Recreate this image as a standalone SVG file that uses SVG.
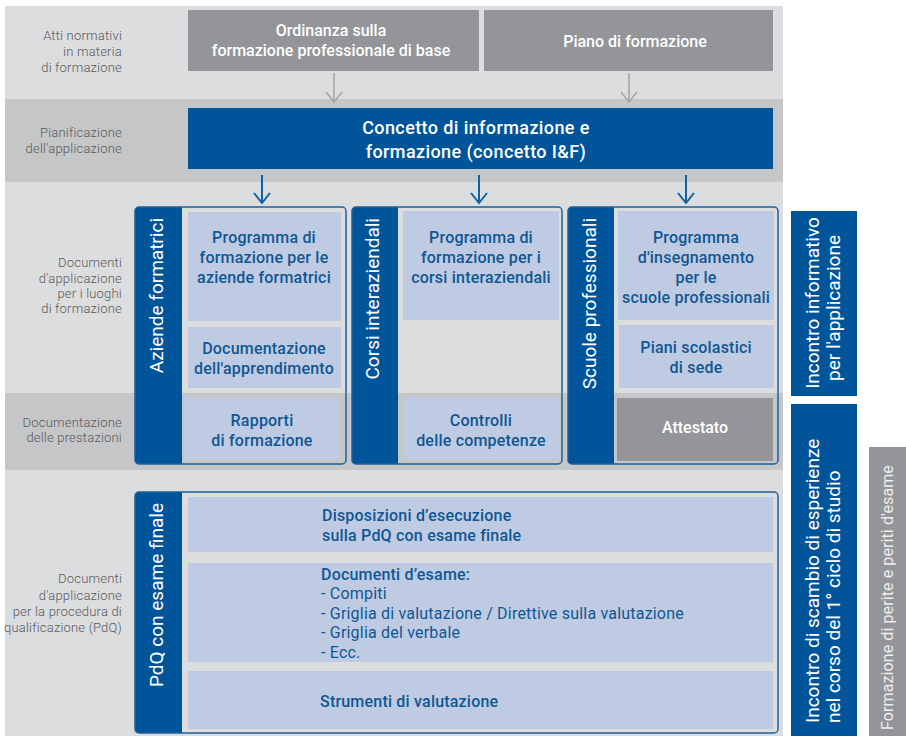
<svg xmlns="http://www.w3.org/2000/svg" width="906" height="736" viewBox="0 0 906 736">
<defs>
<style>
.lbl{font-family:Roboto,"Liberation Sans",sans-serif;font-size:13px;font-weight:300;fill:#58595b;text-anchor:end;letter-spacing:0.2px}
.gt{font-family:Roboto,"Liberation Sans",sans-serif;font-size:16px;font-weight:500;fill:#ffffff;text-anchor:middle}
.wt{font-family:Roboto,"Liberation Sans",sans-serif;font-size:18px;font-weight:500;fill:#ffffff;text-anchor:middle;letter-spacing:0.4px}
.bt{font-family:Roboto,"Liberation Sans",sans-serif;font-size:16px;font-weight:500;fill:#0f5794;text-anchor:middle;letter-spacing:0.2px}
.btl{font-family:Roboto,"Liberation Sans",sans-serif;font-size:16px;font-weight:500;fill:#0f5794;letter-spacing:0.2px}
.btn{font-family:Roboto,"Liberation Sans",sans-serif;font-size:16px;font-weight:400;fill:#0f5794;letter-spacing:0.2px}
.vt{font-family:Roboto,"Liberation Sans",sans-serif;font-size:19px;font-weight:400;fill:#ffffff}
.gvt{font-family:Roboto,"Liberation Sans",sans-serif;font-size:16px;font-weight:400;fill:#eeeeee;letter-spacing:0.1px}
.inner{fill:#bfcbe3}
.stripe{fill:#00559a}
.frame{fill:none;stroke:#1f5f99;stroke-width:1.5}
.ga{stroke:#a3a4a6;stroke-width:1.5;fill:none}
.ba{stroke:#12609f;stroke-width:2;fill:none}
</style>
</defs>
<!-- bands -->
<rect x="5" y="6" width="778" height="93" fill="#dcdddf"/>
<rect x="5" y="99" width="778" height="83" fill="#c5c6c8"/>
<rect x="5" y="182" width="778" height="211" fill="#dcdddf"/>
<rect x="5" y="393" width="778" height="77" fill="#c5c6c8"/>
<rect x="5" y="470" width="778" height="266" fill="#dcdddf"/>

<!-- left labels -->
<g id="labels">
<text class="lbl" x="122" y="40">Atti normativi</text>
<text class="lbl" x="122" y="56">in materia</text>
<text class="lbl" x="122" y="72">di formazione</text>
<text class="lbl" x="122" y="137">Pianificazione</text>
<text class="lbl" x="122" y="153">dell'applicazione</text>
<text class="lbl" x="122" y="267">Documenti</text>
<text class="lbl" x="122" y="283">d'applicazione</text>
<text class="lbl" x="122" y="298">per i luoghi</text>
<text class="lbl" x="122" y="313">di formazione</text>
<text class="lbl" x="122" y="427">Documentazione</text>
<text class="lbl" x="122" y="442">delle prestazioni</text>
<text class="lbl" x="122" y="583">Documenti</text>
<text class="lbl" x="122" y="600">d'applicazione</text>
<text class="lbl" x="122" y="616">per la procedura di</text>
<text class="lbl" x="122" y="632">qualificazione (PdQ)</text>
</g>

<g id="ordinanza">
<rect x="188" y="10" width="291" height="61" fill="#939598"/>
<text class="gt" x="331" y="36">Ordinanza sulla</text>
<text class="gt" x="331" y="56">formazione professionale di base</text>
</g>
<g id="piano">
<rect x="484" y="10" width="289" height="61" fill="#939598"/>
<text class="gt" x="635" y="47">Piano di formazione</text>
</g>
<g id="concetto">
<rect x="188" y="108" width="585" height="61" fill="#00559a"/>
<text class="wt" x="476" y="134">Concetto di informazione e</text>
<text class="wt" x="476" y="158">formazione (concetto I&amp;F)</text>
</g>

<g id="connectors">
<path class="ga" d="M334,73 V102 M326,92 L334,102 L342,92"/>
<path class="ga" d="M629,73 V102 M621,92 L629,102 L637,92"/>
<path class="ba" d="M262,175 V203 M254,193 L262,203 L270,193"/>
<path class="ba" d="M479,175 V203 M471,193 L479,203 L487,193"/>
<path class="ba" d="M686,175 V203 M678,193 L686,203 L694,193"/>
</g>

<!-- Aziende formatrici -->
<g id="aziende">
<path class="stripe" d="M182,207 H139 Q135,207 135,211 V460 Q135,464 139,464 H182 Z"/>
<rect class="frame" x="135" y="207" width="211" height="257" rx="4"/>
<text class="vt" transform="translate(163,218) rotate(-90)" text-anchor="end">Aziende formatrici</text>
</g>
<g id="prog-aziende">
<rect class="inner" x="188" y="212" width="153" height="109"/>
<text class="bt" x="264" y="243">Programma di</text>
<text class="bt" x="264" y="263">formazione per le</text>
<text class="bt" x="264" y="283">aziende formatrici</text>
</g>
<g id="doc-apprendimento">
<rect class="inner" x="188" y="327" width="153" height="61"/>
<text class="bt" x="264" y="354">Documentazione</text>
<text class="bt" x="264" y="374">dell'apprendimento</text>
</g>
<g id="rapporti">
<rect class="inner" x="184" y="397" width="156" height="62"/>
<text class="bt" x="262" y="426">Rapporti</text>
<text class="bt" x="262" y="446">di formazione</text>
</g>

<!-- Corsi interaziendali -->
<g id="corsi">
<path class="stripe" d="M398,207 H356 Q352,207 352,211 V460 Q352,464 356,464 H398 Z"/>
<rect class="frame" x="352" y="207" width="210" height="257" rx="4"/>
<text class="vt" transform="translate(379,218) rotate(-90)" text-anchor="end">Corsi interaziendali</text>
</g>
<g id="prog-corsi">
<rect class="inner" x="403" y="211" width="156" height="109"/>
<text class="bt" x="481" y="243">Programma di</text>
<text class="bt" x="481" y="263">formazione per i</text>
<text class="bt" x="481" y="283">corsi interaziendali</text>
</g>
<g id="controlli">
<rect class="inner" x="403" y="397" width="157" height="62"/>
<text class="bt" x="481" y="426">Controlli</text>
<text class="bt" x="481" y="446">delle competenze</text>
</g>

<!-- Scuole professionali -->
<g id="scuole">
<path class="stripe" d="M614,207 H572 Q568,207 568,211 V460 Q568,464 572,464 H614 Z"/>
<rect class="frame" x="568" y="207" width="210" height="257" rx="4"/>
<text class="vt" transform="translate(596,218) rotate(-90)" text-anchor="end">Scuole professionali</text>
</g>
<g id="prog-scuole">
<rect class="inner" x="618" y="211" width="156" height="109"/>
<text class="bt" x="696" y="243">Programma</text>
<text class="bt" x="696" y="263">d'insegnamento</text>
<text class="bt" x="696" y="283">per le</text>
<text class="bt" x="696" y="303">scuole professionali</text>
</g>
<g id="piani">
<rect class="inner" x="619" y="325" width="155" height="63"/>
<text class="bt" x="696" y="353">Piani scolastici</text>
<text class="bt" x="696" y="373">di sede</text>
</g>
<g id="attestato">
<rect x="617" y="398" width="156" height="63" fill="#939598"/>
<text class="gt" x="695" y="433">Attestato</text>
</g>

<!-- PdQ -->
<g id="pdq">
<path class="stripe" d="M182,492 H139 Q135,492 135,496 V729 Q135,733 139,733 H182 Z"/>
<rect class="frame" x="135" y="492" width="643" height="241" rx="4"/>
<text class="vt" transform="translate(163,503) rotate(-90)" text-anchor="end">PdQ con esame finale</text>
</g>
<g id="disposizioni">
<rect class="inner" x="188" y="497" width="585" height="55"/>
<text class="btl" x="322" y="521">Disposizioni d’esecuzione</text>
<text class="btl" x="322" y="541">sulla PdQ con esame finale</text>
</g>
<g id="documenti-esame">
<rect class="inner" x="188" y="563" width="585" height="99"/>
<text class="btl" x="321" y="580">Documenti d’esame:</text>
<text class="btn" x="321" y="599">- Compiti</text>
<text class="btn" x="321" y="619">- Griglia di valutazione / Direttive sulla valutazione</text>
<text class="btn" x="321" y="638">- Griglia del verbale</text>
<text class="btn" x="321" y="658">- Ecc.</text>
</g>
<g id="strumenti">
<rect class="inner" x="188" y="671" width="585" height="58"/>
<text class="btl" x="320" y="707">Strumenti di valutazione</text>
</g>

<!-- right side bars -->
<g id="incontro-informativo">
<rect x="791" y="211" width="66" height="185" fill="#00559a"/>
<text class="vt" text-anchor="middle" transform="translate(819,303) rotate(-90)">Incontro informativo</text>
<text class="vt" text-anchor="middle" transform="translate(840,308) rotate(-90)">per l'applicazione</text>
</g>
<g id="incontro-scambio">
<rect x="791" y="404" width="66" height="332" fill="#00559a"/>
<text class="vt" transform="translate(819,723) rotate(-90)">Incontro di scambio di esperienze</text>
<text class="vt" transform="translate(840,723) rotate(-90)">nel corso del 1° ciclo di studio</text>
</g>
<g id="formazione-periti">
<rect x="869" y="447" width="37" height="289" fill="#939598"/>
<text class="gvt" transform="translate(893,730) rotate(-90)">Formazione di perite e periti d'esame</text>
</g>
</svg>
